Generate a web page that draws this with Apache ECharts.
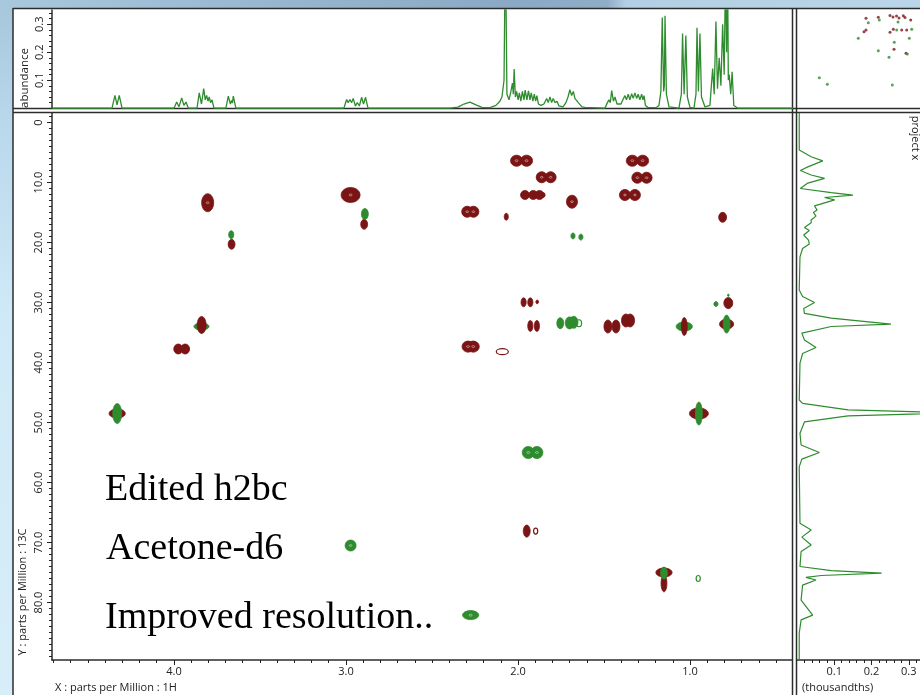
<!DOCTYPE html>
<html>
<head>
<meta charset="utf-8">
<script src="https://cdn.jsdelivr.net/npm/echarts@6/dist/echarts.min.js"></script>
<style>
html,body{margin:0;padding:0;width:920px;height:695px;overflow:hidden;}
#slide{position:absolute;left:0;top:0;width:920px;height:695px;
  background:linear-gradient(180deg,#a6c6dc 0%,#b9d8ec 18%,#cfe9f6 45%,#d7eef9 100%);}
#band{position:absolute;left:0;top:0;width:920px;height:9px;
  background:linear-gradient(90deg,#a9c8dd 0%,#98b6ce 30%,#8ba9c4 55%,#8fadc7 66%,#b3cfe3 68%,#b9d5e7 100%);}
#paper{position:absolute;left:13px;top:8px;width:907px;height:687px;background:#fff;}
#chart{position:absolute;left:0;top:0;width:920px;height:695px;}
</style>
</head>
<body>
<div id="slide"></div><div id="band"></div><div id="paper"></div><div id="chart"></div>
<script>
// ---- axis extents (ppm) ----
const protonRange = [0.4067, 4.709];      // 1H, drawn right-to-left
const carbonRange = [-1.583, 89.58];      // 13C, drawn top-to-bottom
const abundanceRange = [-0.001, 0.3508];
const projectionRange = [0, 0.33];

// ---- tick labels ----
const protonLabels = [1.0, 2.0, 3.0, 4.0];
const carbonLabels = [0, 10, 20, 30, 40, 50, 60, 70, 80];
const abundanceLabels = [0.1, 0.2, 0.3];
const projectionLabels = [0.1, 0.2, 0.3];

// ---- 2D cross peaks: [dH, dC, half-width H, half-width C, open contour] ----
const positivePeaks = [
  [3.804,13.37,0.035,1.5,0],
  [2.973,12.08,0.055,1.25,0],
  [2.894,16.97,0.020,0.83,0],
  [3.665,20.3,0.020,0.83,0],
  [3.839,33.75,0.026,1.42,0],
  [3.975,37.75,0.026,0.83,0],[3.935,37.75,0.026,0.83,0],
  [2.008,6.37,0.035,0.92,0],[1.950,6.37,0.035,0.92,0],
  [1.862,9.13,0.032,0.92,0],[1.810,9.13,0.032,0.92,0],
  [1.959,12.08,0.026,0.75,0],[1.911,12.08,0.026,0.75,0],[1.875,12.08,0.026,0.75,0],[1.852,12.08,0.010,0.4,0],
  [1.686,13.2,0.032,1.08,0],
  [2.295,14.87,0.032,0.92,0],[2.259,14.87,0.032,0.92,0],
  [2.068,15.7,0.012,0.58,0],
  [1.335,6.37,0.035,0.92,0],[1.275,6.37,0.035,0.92,0],
  [1.306,9.2,0.032,0.92,0],[1.252,9.2,0.032,0.92,0],
  [1.378,12.08,0.032,0.92,0],[1.320,12.08,0.032,0.92,0],
  [0.810,15.8,0.023,0.83,0],
  [1.967,29.97,0.015,0.75,0],[1.928,29.97,0.015,0.75,0],[1.888,29.9,0.008,0.3,0],
  [1.928,33.9,0.015,0.92,0],[1.890,33.9,0.015,0.92,0],
  [1.477,34.0,0.023,1.08,0],[1.430,34.0,0.023,1.08,0],
  [1.372,33.0,0.026,1.08,0],[1.348,33.0,0.026,1.08,0],
  [1.033,34.0,0.017,1.5,0],
  [0.777,30.1,0.026,0.92,0],
  [0.787,33.6,0.041,0.83,0],
  [2.290,37.35,0.035,0.92,0],[2.260,37.35,0.035,0.92,0],
  [2.091,38.2,0.035,0.5,1],
  [4.33,48.5,0.047,0.75,0],
  [0.948,48.5,0.055,0.92,0],
  [1.949,68.1,0.020,1.0,0],[1.897,68.1,0.012,0.5,1],
  [1.151,75.0,0.047,0.75,0],[1.151,76.8,0.017,1.42,0]
];
const negativePeaks = [
  [2.890,15.25,0.020,0.92,0],
  [3.667,18.7,0.015,0.67,0],
  [3.84,34.0,0.044,0.58,0],
  [1.680,18.9,0.012,0.5,0],[1.634,19.1,0.012,0.5,0],
  [1.754,33.45,0.020,0.92,0],
  [1.700,33.4,0.025,1.0,0],[1.676,33.3,0.025,1.0,0],
  [1.645,33.45,0.015,0.58,1],
  [1.033,34.0,0.047,0.75,0],
  [0.849,30.25,0.012,0.42,0],
  [0.777,28.8,0.005,0.2,0],
  [0.787,33.6,0.020,1.5,0],
  [4.33,48.5,0.026,1.67,0],
  [2.973,70.5,0.032,0.92,0],
  [0.948,48.5,0.020,1.92,0],
  [1.940,55.0,0.035,1.0,0],[1.890,55.0,0.035,1.0,0],
  [1.151,75.1,0.020,1.0,0],
  [0.952,76.0,0.012,0.5,1],
  [2.275,82.1,0.047,0.75,0]
];

// ---- 1H trace: [ppm, abundance] ----
const protonTrace = [
  [4.71,0],[4.360,0],[4.343,0.046],[4.331,0.012],[4.318,0.046],[4.302,0],
  [4.0,0],[3.984,0.022],[3.971,0.005],[3.955,0.037],[3.942,0.01],[3.930,0.022],[3.916,0],
  [3.866,0],[3.853,0.055],[3.840,0.015],[3.827,0.07],[3.818,0.03],[3.810,0.046],[3.802,0.025],[3.795,0.040],[3.787,0.02],[3.779,0.030],[3.767,0],
  [3.698,0],[3.684,0.043],[3.672,0.015],[3.665,0.028],[3.660,0.018],[3.655,0.043],[3.640,0],
  [3.012,0],[2.996,0.031],[2.987,0.02],[2.977,0.031],[2.967,0.02],[2.958,0.035],[2.945,0.008],[2.934,0.02],[2.922,0.008],[2.909,0.039],[2.898,0.015],[2.886,0.039],[2.872,0],
  [2.395,0],[2.349,0.004],[2.314,0.015],[2.279,0.022],[2.244,0.012],[2.209,0.003],[2.163,0.002],[2.128,0.01],[2.105,0.025],[2.093,0.04],[2.081,0.1],[2.073,0.6],[2.064,0.05],[2.052,0.03],[2.041,0.06],[2.032,0.09],[2.027,0.05],[2.022,0.14],[2.015,0.04],[2.008,0.06],[1.999,0.03],[1.992,0.055],[1.983,0.025],[1.974,0.06],[1.965,0.03],[1.958,0.065],[1.948,0.03],[1.939,0.062],[1.930,0.03],[1.923,0.055],[1.913,0.025],[1.905,0.05],[1.897,0.025],[1.890,0.045],[1.881,0.015],[1.866,0.01],[1.849,0.015],[1.833,0.035],[1.824,0.02],[1.814,0.04],[1.804,0.02],[1.795,0.035],[1.785,0.02],[1.773,0.025],[1.762,0.008],[1.738,0.005],[1.721,0.02],[1.709,0.04],[1.698,0.066],[1.688,0.045],[1.678,0.06],[1.669,0.035],[1.659,0.04],[1.649,0.02],[1.640,0.02],[1.628,0.005],[1.610,0.003],
  [1.494,0],[1.480,0.02],[1.471,0.03],[1.463,0.02],[1.455,0.063],[1.445,0.025],[1.436,0.04],[1.424,0.015],[1.413,0.02],[1.401,0.015],[1.390,0.03],[1.378,0.045],[1.369,0.03],[1.359,0.05],[1.349,0.03],[1.339,0.052],[1.330,0.035],[1.320,0.055],[1.310,0.035],[1.301,0.05],[1.291,0.03],[1.281,0.05],[1.273,0.03],[1.267,0.045],[1.259,0.01],[1.244,0.003],
  [1.198,0.002],[1.180,0.01],[1.169,0.06],[1.161,0.324],[1.153,0.06],[1.149,0.08],[1.145,0.33],[1.137,0.05],[1.122,0.005],
  [1.064,0],[1.050,0.05],[1.043,0.267],[1.034,0.05],[1.024,0.26],[1.015,0.04],[1.0,0.003],
  [0.977,0],[0.965,0.05],[0.959,0.287],[0.951,0.06],[0.942,0.267],[0.933,0.04],[0.913,0.005],
  [0.884,0.01],[0.868,0.142],[0.859,0.05],[0.849,0.31],[0.840,0.07],[0.830,0.18],[0.820,0.08],[0.810,0.30],[0.801,0.12],[0.793,0.5],[0.787,0.2],[0.781,0.5],[0.777,0.1],[0.772,0.12],[0.763,0.05],[0.755,0.13],[0.745,0.01],[0.721,0],[0.40,0]
];

// ---- 13C projection: [intensity (thousandths), ppm] ----
const carbonProjection = [
  [0.006,-1.6],[0.006,4.6],[0.038,5.7],[0.069,6.4],[0.029,7.4],[0.009,8.0],[0.038,8.75],[0.074,9.3],[0.029,10.1],[0.009,11.0],
  [0.092,11.7],[0.150,12.1],[0.074,12.5],[0.101,12.9],[0.047,13.9],[0.054,14.6],[0.044,15.0],[0.051,15.6],[0.038,16.25],[0.038,16.7],
  [0.020,17.5],[0.033,18.0],[0.018,18.75],[0.031,19.6],[0.033,20.25],[0.015,21.0],[0.008,22.4],[0.006,27.9],[0.015,29.0],[0.047,30.0],
  [0.018,31.0],[0.020,31.8],[0.092,32.6],[0.252,33.6],[0.092,34.0],[0.013,35.1],[0.020,36.25],[0.051,37.5],[0.015,38.5],[0.008,40.1],
  [0.006,46.25],[0.015,46.8],[0.137,47.9],[0.42,48.4],[0.137,48.9],[0.020,49.9],[0.008,51.8],[0.011,53.75],[0.060,55.0],[0.013,56.1],
  [0.006,57.4],[0.008,66.8],[0.038,67.9],[0.013,69.1],[0.038,70.4],[0.011,71.5],[0.008,74.0],[0.092,74.7],[0.227,75.1],[0.065,75.5],
  [0.024,75.8],[0.051,76.25],[0.015,77.1],[0.011,79.6],[0.042,82.1],[0.011,82.9],[0.006,85.1],[0.006,89.6]
];

// ---- overview map (panel units) ----
const overviewPositive = [[69,8.3],[81.3,7.3],[93,5.5],[96,7],[99.5,6],[102,8],[106.3,5.7],[108,7.5],[113.7,10],[93,22.3],[96.3,19.3],[104.7,20],[109.7,20],[67,21.7],[69,20],[97,39.3],[109,43.3]];
const overviewNegative = [[71.3,12.7],[82.3,10],[99.7,20],[114.7,19.3],[61.3,28.3],[97.3,32.3],[112.3,28.3],[81.3,40.7],[92,47.3],[110.3,44],[22.3,67.7],[30.3,74.3],[95.3,75],[101,12]];

// ---- styling ----
const RED = '#7b1414';
const GREEN = '#2e8c2e';
const INK = '#222';
const FRAME = '#2c2c2c';
const FONT = 'Open Sans';

function steps(from, to, step) {
  const out = [];
  const n = Math.round((to - from) / step);
  for (let i = 0; i <= n; i++) out.push(+(from + i * step).toFixed(4));
  return out;
}

// each peak is drawn as a filled contour ellipse; wide ones sit under tall ones
function contour(color) {
  return function (params, api) {
    const c = api.coord([api.value(0), api.value(1)]);
    const e = api.coord([api.value(0) + api.value(2), api.value(1) + api.value(3)]);
    const rx = Math.abs(e[0] - c[0]);
    const ry = Math.abs(e[1] - c[1]);
    const open = api.value(4) === 1;
    const layer = rx > ry ? 1 : 3;
    const children = [{
      type: 'ellipse',
      shape: { cx: c[0], cy: c[1], rx: rx, ry: ry },
      z2: layer,
      style: open
        ? { fill: null, stroke: color, lineWidth: 1.2 }
        : { fill: color, stroke: color, lineWidth: 0.8 }
    }];
    if (!open && rx >= 4.5 && ry >= 4.5) {
      children.push({
        type: 'ellipse',
        shape: { cx: c[0], cy: c[1], rx: Math.min(1.6, rx * 0.25), ry: 0.9 },
        z2: layer + 1,
        style: { fill: null, stroke: 'rgba(255,255,255,0.75)', lineWidth: 0.6 }
      });
    }
    return { type: 'group', children: children };
  };
}

function tickAxis(base, values, len) {
  return Object.assign({
    type: 'value',
    axisLine: { show: false, onZero: false },
    axisLabel: { show: false },
    splitLine: { show: false },
    axisTick: { show: true, customValues: values, length: len, lineStyle: { color: INK, width: 1 } }
  }, base);
}
function hiddenAxis(base) {
  return Object.assign({ type: 'value', show: false, axisLine: { onZero: false } }, base);
}

const labelStyle = { color: INK, fontFamily: FONT, fontSize: 11 };
const mainRect = { left: 52, top: 113, width: 740, height: 547 };
const traceRect = { left: 52, top: 10, width: 740, height: 98.5 };
const projRect = { left: 797, top: 113, width: 123, height: 547 };

const chart = echarts.init(document.getElementById('chart'), null, { renderer: 'canvas' });

chart.setOption({
  animation: false,
  backgroundColor: 'transparent',
  grid: [
    traceRect,                                          // 0: 1H trace
    mainRect,                                           // 1: 2D map
    projRect,                                           // 2: 13C projection
    { left: 797, top: 10, width: 123, height: 98 },     // 3: overview
    mainRect,                                           // 4: minor ticks of the 2D map
    traceRect,                                          // 5: minor ticks of the 1H trace
    projRect                                            // 6: minor ticks of the projection
  ],
  xAxis: [
    hiddenAxis({ gridIndex: 0, inverse: true, min: protonRange[0], max: protonRange[1] }),
    { gridIndex: 1, type: 'value', inverse: true, min: protonRange[0], max: protonRange[1], position: 'bottom',
      axisLine: { show: true, onZero: false, lineStyle: { color: FRAME, width: 1.5 } },
      axisTick: { show: true, customValues: protonLabels, length: 5, lineStyle: { color: INK, width: 1 } },
      axisLabel: Object.assign({ customValues: protonLabels, margin: 6, formatter: v => v.toFixed(1) }, labelStyle),
      splitLine: { show: false } },
    { gridIndex: 2, type: 'value', min: projectionRange[0], max: projectionRange[1], position: 'bottom',
      axisLine: { show: true, onZero: false, lineStyle: { color: FRAME, width: 1.5 } },
      axisTick: { show: true, customValues: projectionLabels, length: 5, lineStyle: { color: INK, width: 1 } },
      axisLabel: Object.assign({ customValues: projectionLabels, margin: 6, formatter: v => v.toFixed(1) }, labelStyle),
      splitLine: { show: false } },
    hiddenAxis({ gridIndex: 3, min: 0, max: 123 }),
    tickAxis({ gridIndex: 4, inverse: true, min: protonRange[0], max: protonRange[1], position: 'bottom' }, steps(0.5, 4.7, 0.1), 3),
    hiddenAxis({ gridIndex: 5, inverse: true, min: protonRange[0], max: protonRange[1] }),
    tickAxis({ gridIndex: 6, min: projectionRange[0], max: projectionRange[1], position: 'bottom' }, steps(0.02, 0.32, 0.02), 3)
  ],
  yAxis: [
    { gridIndex: 0, type: 'value', min: abundanceRange[0], max: abundanceRange[1], position: 'left',
      axisLine: { show: true, onZero: false, lineStyle: { color: FRAME, width: 1.5 } },
      axisTick: { show: true, customValues: abundanceLabels, length: 5, lineStyle: { color: INK, width: 1 } },
      axisLabel: Object.assign({ customValues: abundanceLabels, margin: 7, rotate: 90, formatter: v => v.toFixed(1) }, labelStyle),
      splitLine: { show: false } },
    { gridIndex: 1, type: 'value', inverse: true, min: carbonRange[0], max: carbonRange[1], position: 'left',
      axisLine: { show: true, onZero: false, lineStyle: { color: FRAME, width: 1.5 } },
      axisTick: { show: true, customValues: carbonLabels, length: 5, lineStyle: { color: INK, width: 1 } },
      axisLabel: Object.assign({ customValues: carbonLabels, margin: 8, rotate: 90,
        formatter: v => (v === 0 ? '0' : v.toFixed(1)) }, labelStyle),
      splitLine: { show: false } },
    hiddenAxis({ gridIndex: 2, inverse: true, min: carbonRange[0], max: carbonRange[1] }),
    hiddenAxis({ gridIndex: 3, inverse: true, min: 0, max: 98 }),
    tickAxis({ gridIndex: 4, inverse: true, min: carbonRange[0], max: carbonRange[1], position: 'left' }, steps(-1, 89, 1), 3),
    tickAxis({ gridIndex: 5, min: abundanceRange[0], max: abundanceRange[1], position: 'left' }, steps(0.02, 0.34, 0.02), 3),
    hiddenAxis({ gridIndex: 6, inverse: true, min: carbonRange[0], max: carbonRange[1] })
  ],
  series: [
    { name: '1H', type: 'line', xAxisIndex: 0, yAxisIndex: 0, data: protonTrace,
      showSymbol: false, clip: true, lineStyle: { color: GREEN, width: 1.3 }, z: 3 },
    { name: 'positive', type: 'custom', xAxisIndex: 1, yAxisIndex: 1, data: positivePeaks,
      renderItem: contour(RED), clip: true, z: 3 },
    { name: 'negative', type: 'custom', xAxisIndex: 1, yAxisIndex: 1, data: negativePeaks,
      renderItem: contour(GREEN), clip: true, z: 3 },
    { name: 'project x', type: 'line', xAxisIndex: 2, yAxisIndex: 2, data: carbonProjection,
      showSymbol: false, clip: true, lineStyle: { color: GREEN, width: 1.2 }, z: 3 },
    { name: 'overview +', type: 'scatter', xAxisIndex: 3, yAxisIndex: 3, data: overviewPositive,
      symbolSize: 3, itemStyle: { color: RED }, z: 3 },
    { name: 'overview -', type: 'scatter', xAxisIndex: 3, yAxisIndex: 3, data: overviewNegative,
      symbolSize: 3, itemStyle: { color: GREEN }, z: 3 }
  ],
  graphic: [
    { type: 'line', silent: true, shape: { x1: 13, y1: 8.5, x2: 920, y2: 8.5 }, style: { stroke: FRAME, lineWidth: 1.5 } },
    { type: 'line', silent: true, shape: { x1: 13, y1: 8, x2: 13, y2: 695 }, style: { stroke: FRAME, lineWidth: 1.5 } },
    { type: 'line', silent: true, shape: { x1: 13, y1: 108.5, x2: 920, y2: 108.5 }, style: { stroke: FRAME, lineWidth: 1.5 } },
    { type: 'line', silent: true, shape: { x1: 13, y1: 112.5, x2: 920, y2: 112.5 }, style: { stroke: FRAME, lineWidth: 1.5 } },
    { type: 'line', silent: true, shape: { x1: 792.5, y1: 8, x2: 792.5, y2: 695 }, style: { stroke: FRAME, lineWidth: 1.5 } },
    { type: 'line', silent: true, shape: { x1: 796.5, y1: 8, x2: 796.5, y2: 695 }, style: { stroke: FRAME, lineWidth: 1.5 } },
    { type: 'text', silent: true, x: 25, y: 78, rotation: Math.PI / 2,
      style: { text: 'abundance', fontFamily: FONT, fontSize: 11.5, fill: INK, align: 'center', verticalAlign: 'middle' } },
    { type: 'text', silent: true, x: 23, y: 592, rotation: Math.PI / 2,
      style: { text: 'Y : parts per Million : 13C', fontFamily: FONT, fontSize: 11, fill: INK, align: 'center', verticalAlign: 'middle' } },
    { type: 'text', silent: true, x: 55, y: 688,
      style: { text: 'X : parts per Million : 1H', fontFamily: FONT, fontSize: 11, fill: INK, align: 'left', verticalAlign: 'middle' } },
    { type: 'text', silent: true, x: 802, y: 688,
      style: { text: '(thousandths)', fontFamily: FONT, fontSize: 11, fill: INK, align: 'left', verticalAlign: 'middle' } },
    { type: 'text', silent: true, x: 915, y: 138, rotation: -Math.PI / 2,
      style: { text: 'project x', fontFamily: FONT, fontSize: 11, fill: INK, align: 'center', verticalAlign: 'middle' } },
    { type: 'text', silent: true, x: 105, y: 490,
      style: { text: 'Edited h2bc', fontFamily: 'Liberation Serif', fontSize: 38, fill: '#000', align: 'left', verticalAlign: 'middle' } },
    { type: 'text', silent: true, x: 106, y: 549,
      style: { text: 'Acetone-d6', fontFamily: 'Liberation Serif', fontSize: 38, fill: '#000', align: 'left', verticalAlign: 'middle' } },
    { type: 'text', silent: true, x: 105, y: 618,
      style: { text: 'Improved resolution..', fontFamily: 'Liberation Serif', fontSize: 38, fill: '#000', align: 'left', verticalAlign: 'middle' } }
  ]
});
</script>
</body>
</html>
